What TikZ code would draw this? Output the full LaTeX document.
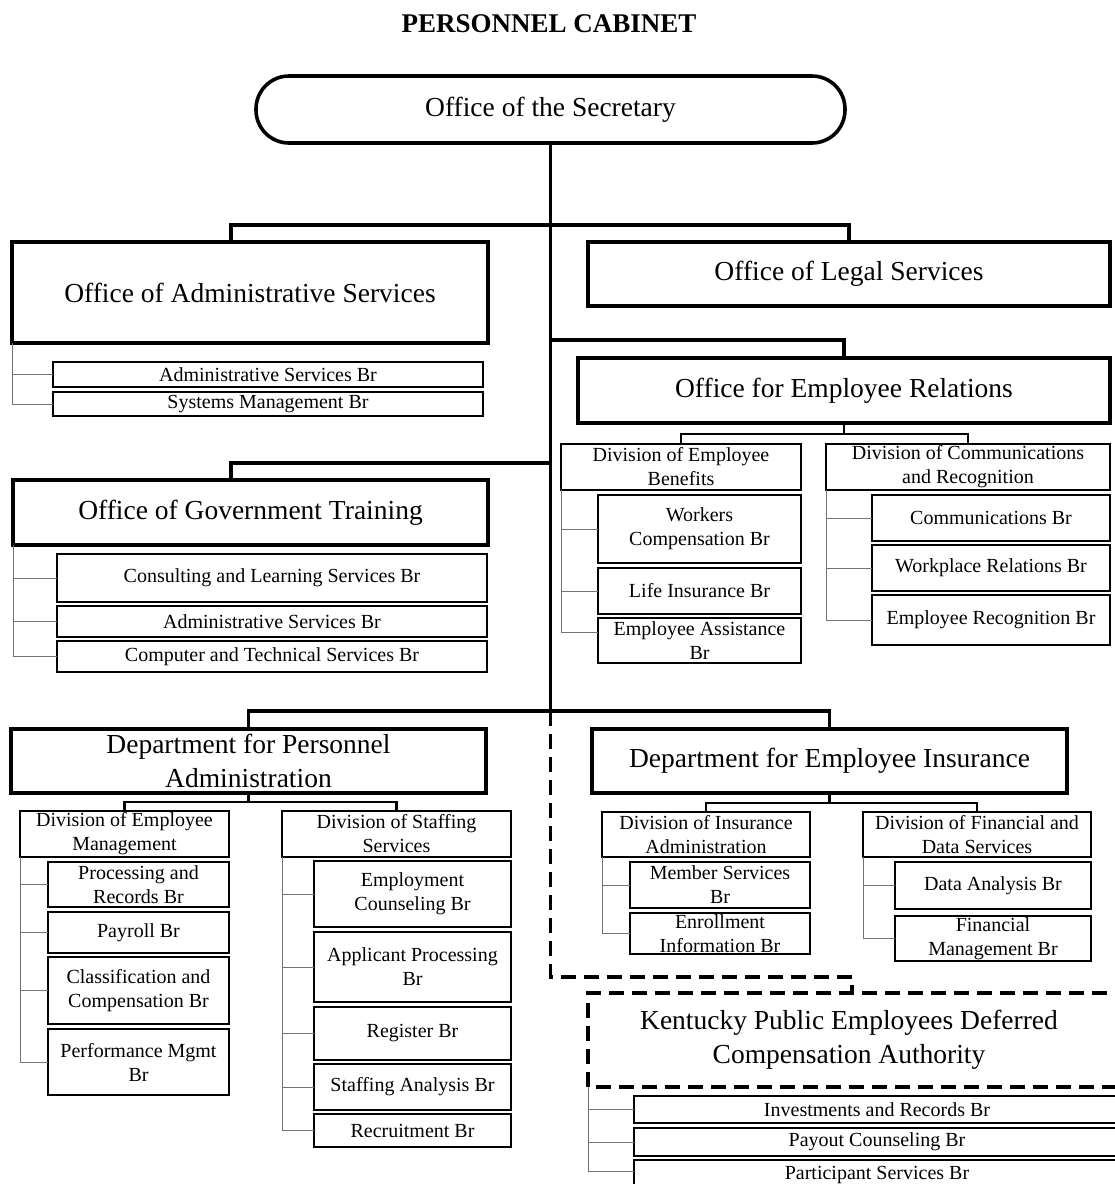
\documentclass[tikz,border=0pt]{standalone}
\usepackage{fontspec}
\setmainfont{Liberation Serif}
\begin{document}
\begin{tikzpicture}[x=1pt,y=-1pt]
\tikzset{
  wh/.style 2 args={minimum width=#1pt, minimum height=#2pt},
  big/.style={draw, line width=3.6pt, inner sep=0pt, outer sep=0pt, align=center, font=\fontsize{27.5}{34}\selectfont},
  divbox/.style={draw, line width=2.3pt, inner sep=0pt, outer sep=0pt, align=center, font=\fontsize{20}{24}\selectfont},
  brbox/.style={draw, line width=1.4pt, inner sep=0pt, outer sep=0pt, align=center, font=\fontsize{20}{24}\selectfont},
  conn/.style={line width=3.6pt},
  subconn/.style={line width=2.2pt},
  brline/.style={line width=1pt, draw=black!55},
  dashconn/.style={line width=3.6pt, dash pattern=on 15pt off 8pt},
  dashtext/.style={inner sep=0pt, outer sep=0pt, align=center, font=\fontsize{27.5}{34}\selectfont},
}
\useasboundingbox (0,0) rectangle (1115,1184);

\node[font=\bfseries\fontsize{27}{32}\selectfont] (title) at (549,24) {PERSONNEL CABINET};
\node[big, rounded corners=33pt, wh={589}{67}] (sec) at (550.5,109.5) {Office of the Secretary};

\node[big, wh={475.5}{101}] (admin) at (250,292.5) {Office of Administrative Services};
\node[big, wh={522}{64}] (legal) at (849,274) {Office of Legal Services};
\node[brbox, wh={430}{25}] (asb) at (268,374.5) {Administrative Services Br};
\node[brbox, wh={430}{24}] (smb) at (268,404) {Systems Management Br};

\node[big, wh={532}{65}] (oer) at (844,390.5) {Office for Employee Relations};
\node[divbox, wh={240}{46}] (deb) at (681,467) {Division of Employee\\Benefits};
\node[divbox, wh={284}{46}] (dcr) at (968,467) {Division of Communications\\and Recognition};
\node[brbox, wh={203}{68}] (wcb) at (699.5,529) {Workers\\Compensation Br};
\node[brbox, wh={203}{46}] (lib) at (699.5,591) {Life Insurance Br};
\node[brbox, wh={203}{45}] (eab) at (699.5,640.5) {Employee Assistance\\Br};
\node[brbox, wh={238}{46}] (cob) at (991,518) {Communications Br};
\node[brbox, wh={238}{46}] (wrb) at (991,568) {Workplace Relations Br};
\node[brbox, wh={238}{50}] (erb) at (991,620) {Employee Recognition Br};

\node[big, wh={475}{65}] (ogt) at (250.5,512.5) {Office of Government Training};
\node[brbox, wh={430}{48}] (clb) at (272,578) {Consulting and Learning Services Br};
\node[brbox, wh={430}{31}] (gab) at (272,621.5) {Administrative Services Br};
\node[brbox, wh={430}{31}] (ctb) at (272,656.5) {Computer and Technical Services Br};

\node[big, wh={475}{64}] (dpa) at (248.5,761) {Department for Personnel\\Administration};
\node[divbox, wh={209}{46}] (dem) at (124.5,834) {Division of Employee\\Management};
\node[divbox, wh={229}{46}] (dss) at (396.5,834) {Division of Staffing\\Services};
\node[brbox, wh={181}{45}] (prb) at (138.5,884.5) {Processing and\\Records Br};
\node[brbox, wh={181}{41}] (pab) at (138.5,932.5) {Payroll Br};
\node[brbox, wh={181}{67}] (ccb) at (138.5,990.5) {Classification and\\Compensation Br};
\node[brbox, wh={181}{66}] (pmb) at (138.5,1062) {Performance Mgmt\\Br};
\node[brbox, wh={197}{66}] (ecb) at (412.5,894) {Employment\\Counseling Br};
\node[brbox, wh={197}{70}] (apb) at (412.5,967) {Applicant Processing\\Br};
\node[brbox, wh={197}{53}] (rgb) at (412.5,1033.5) {Register Br};
\node[brbox, wh={197}{46}] (sab) at (412.5,1087) {Staffing Analysis Br};
\node[brbox, wh={197}{33}] (rcb) at (412.5,1130.5) {Recruitment Br};

\node[big, wh={475}{64}] (dei) at (829.5,761) {Department for Employee Insurance};
\node[divbox, wh={208}{45}] (dia) at (706,834.5) {Division of Insurance\\Administration};
\node[divbox, wh={228}{45}] (dfd) at (977,834.5) {Division of Financial and\\Data Services};
\node[brbox, wh={180}{46}] (msb) at (720,885) {Member Services\\Br};
\node[brbox, wh={180}{41}] (eib) at (720,933.5) {Enrollment\\Information Br};
\node[brbox, wh={196}{47}] (dab) at (993,885.5) {Data Analysis Br};
\node[brbox, wh={196}{45}] (fmb) at (993,938.5) {Financial\\Management Br};

\node[dashtext, wh={522}{94}] (kp) at (849,1040) {Kentucky Public Employees Deferred\\Compensation Authority};
\draw[dashconn] ([xshift=20pt]kp.north east) -- (kp.north west) -- (kp.south west) -- ([xshift=20pt]kp.south east);
\node[brbox, wh={486}{27}] (irb) at (877,1109.5) {Investments and Records Br};
\node[brbox, wh={486}{28}] (pcb) at (877,1142) {Payout Counseling Br};
\node[brbox, wh={486}{30}] (psb) at (877,1175) {Participant Services Br};

% main connectors
\coordinate (b1) at (550.5,225);
\coordinate (b2) at (550.5,340);
\coordinate (b3) at (550.5,463);
\coordinate (b4) at (550.5,711);
\coordinate (d1) at (550.5,977);
\draw[conn] (sec.south) -- (b4);
\draw[conn] ([xshift=-19pt]admin.north) |- (b1) -| (legal.north);
\draw[conn] (b2) -| (oer.north);
\draw[conn] (b3) -| ([xshift=-19.5pt]ogt.north);
\draw[conn] (dpa.north) |- (b4) -| (dei.north);
\draw[dashconn] (b4) -- (d1) -| ([xshift=3pt]kp.north);

% division bars
\draw[subconn] (oer.south) -- ([yshift=-11pt]oer.south);
\draw[subconn] (deb.north) |- ([yshift=-11pt]oer.south) -| (dcr.north);
\draw[subconn] (dpa.south) -- ([yshift=-9pt]dpa.south);
\draw[subconn] (dem.north) |- ([yshift=-9pt]dpa.south) -| (dss.north);
\draw[subconn] (dei.south) -- ([yshift=-10pt]dei.south);
\draw[subconn] (dia.north) |- ([yshift=-10pt]dei.south) -| (dfd.north);

% branch lines
\foreach \c in {asb,smb} \draw[brline] (admin.south west) |- (\c.west);
\foreach \c in {clb,gab,ctb} \draw[brline] (ogt.south west) |- (\c.west);
\foreach \c in {wcb,lib} \draw[brline] (deb.south west) |- (\c.west);
\draw[brline] (deb.south west) |- ([yshift=8.5pt]eab.west);
\foreach \c in {cob,wrb,erb} \draw[brline] (dcr.south west) |- (\c.west);
\foreach \c in {prb,pab,ccb,pmb} \draw[brline] (dem.south west) |- (\c.west);
\foreach \c in {ecb,apb,rgb,sab,rcb} \draw[brline] (dss.south west) |- (\c.west);
\foreach \c in {msb,eib} \draw[brline] (dia.south west) |- (\c.west);
\foreach \c in {dab,fmb} \draw[brline] (dfd.south west) |- (\c.west);
\foreach \c in {irb,pcb} \draw[brline] (kp.south west) |- (\c.west);
\draw[brline] (kp.south west) |- ([yshift=4pt]psb.west);
\end{tikzpicture}
\end{document}
